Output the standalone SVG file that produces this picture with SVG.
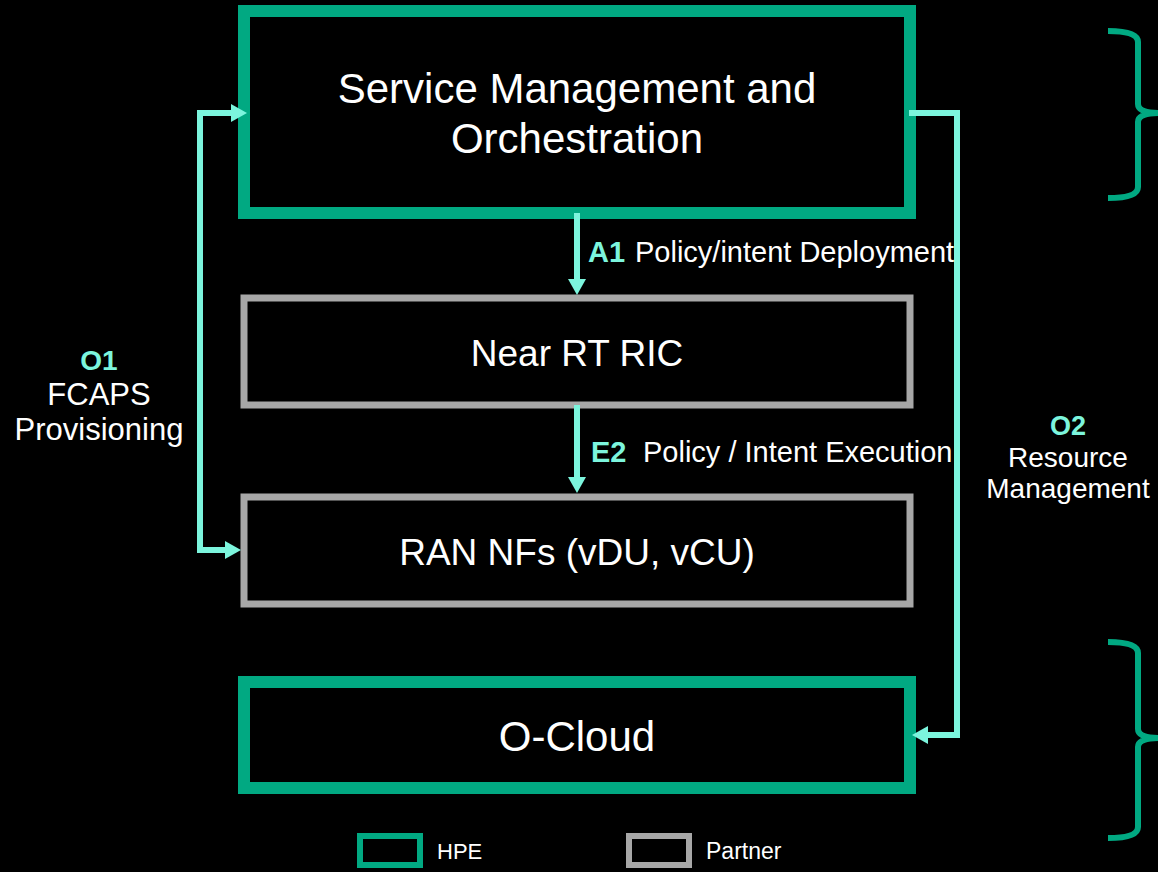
<svg xmlns="http://www.w3.org/2000/svg" width="1158" height="872" viewBox="0 0 1158 872">
  <style>
    .hpe { fill: none; stroke: #01A982; stroke-width: 12; }
    .partner { fill: none; stroke: #A7A7A7; stroke-width: 7; }
    .lbl { font-family: "Liberation Sans", Arial, sans-serif; fill: #FFFFFF; }
    .key { font-family: "Liberation Sans", Arial, sans-serif; fill: #7CF5DD; font-weight: bold; }
    .conn { fill: none; stroke: #7CF5DD; stroke-width: 6; }
    .brace { fill: none; stroke: #01A982; stroke-width: 6; }
  </style>
  <defs>
    <marker id="arrow" markerUnits="userSpaceOnUse" markerWidth="16" markerHeight="18" refX="4" refY="9" orient="auto-start-reverse">
      <path d="M0,0 L16,9 L0,18 z" fill="#7CF5DD"/>
    </marker>
  </defs>
  <rect x="0" y="0" width="1158" height="872" fill="#000000"/>

  <g id="smo">
    <rect class="hpe" x="244" y="11" width="666" height="202"/>
    <text class="lbl" x="577" y="103" font-size="42" text-anchor="middle">Service Management and</text>
    <text class="lbl" x="577" y="153" font-size="42" text-anchor="middle">Orchestration</text>
  </g>

  <g id="near-rt-ric">
    <rect class="partner" x="244" y="298" width="666" height="107"/>
    <text class="lbl" x="577" y="366" font-size="37" text-anchor="middle">Near RT RIC</text>
  </g>

  <g id="ran-nfs">
    <rect class="partner" x="244" y="497" width="666" height="107"/>
    <text class="lbl" x="577" y="565" font-size="37" text-anchor="middle">RAN NFs (vDU, vCU)</text>
  </g>

  <g id="o-cloud">
    <rect class="hpe" x="244" y="682" width="666" height="106"/>
    <text class="lbl" x="577" y="751" font-size="42" text-anchor="middle">O-Cloud</text>
  </g>

  <g id="connectors">
    <path id="a1" class="conn" d="M577,213 V283" marker-end="url(#arrow)"/>
    <path id="e2" class="conn" d="M577,405 V481" marker-end="url(#arrow)"/>
    <path id="o1" class="conn" d="M235,113 H200 V550 H229" marker-start="url(#arrow)" marker-end="url(#arrow)"/>
    <path id="o2" class="conn" d="M909,113 H957 V735 H924" marker-end="url(#arrow)"/>
  </g>

  <g id="labels">
    <text class="key" x="588" y="262" font-size="29">A1</text>
    <text class="lbl" x="635" y="262" font-size="29">Policy/intent Deployment</text>
    <text class="key" x="591" y="462" font-size="29">E2</text>
    <text class="lbl" x="643" y="462" font-size="29">Policy / Intent Execution</text>
    <text class="key" x="99" y="370" font-size="28" text-anchor="middle">O1</text>
    <text class="lbl" x="99" y="405" font-size="31" text-anchor="middle">FCAPS</text>
    <text class="lbl" x="99" y="440" font-size="31" text-anchor="middle">Provisioning</text>
    <text class="key" x="1068" y="435" font-size="27" text-anchor="middle">O2</text>
    <text class="lbl" x="1068" y="467" font-size="28" text-anchor="middle">Resource</text>
    <text class="lbl" x="1068" y="498" font-size="28" text-anchor="middle">Management</text>
  </g>

  <g id="braces">
    <path class="brace" d="M1108,31 Q1138,31 1138,42 V104 Q1138,113 1160,113 Q1138,113 1138,122 V187 Q1138,198 1108,198"/>
    <path class="brace" d="M1108,642 Q1138,642 1138,653 V729 Q1138,738 1160,738 Q1138,738 1138,747 V827 Q1138,838 1108,838"/>
  </g>

  <g id="legend">
    <rect x="360" y="836" width="60" height="29" fill="none" stroke="#01A982" stroke-width="6"/>
    <text class="lbl" x="437" y="859" font-size="22">HPE</text>
    <rect x="629" y="836" width="60" height="29" fill="none" stroke="#A7A7A7" stroke-width="6"/>
    <text class="lbl" x="706" y="859" font-size="23">Partner</text>
  </g>
</svg>
